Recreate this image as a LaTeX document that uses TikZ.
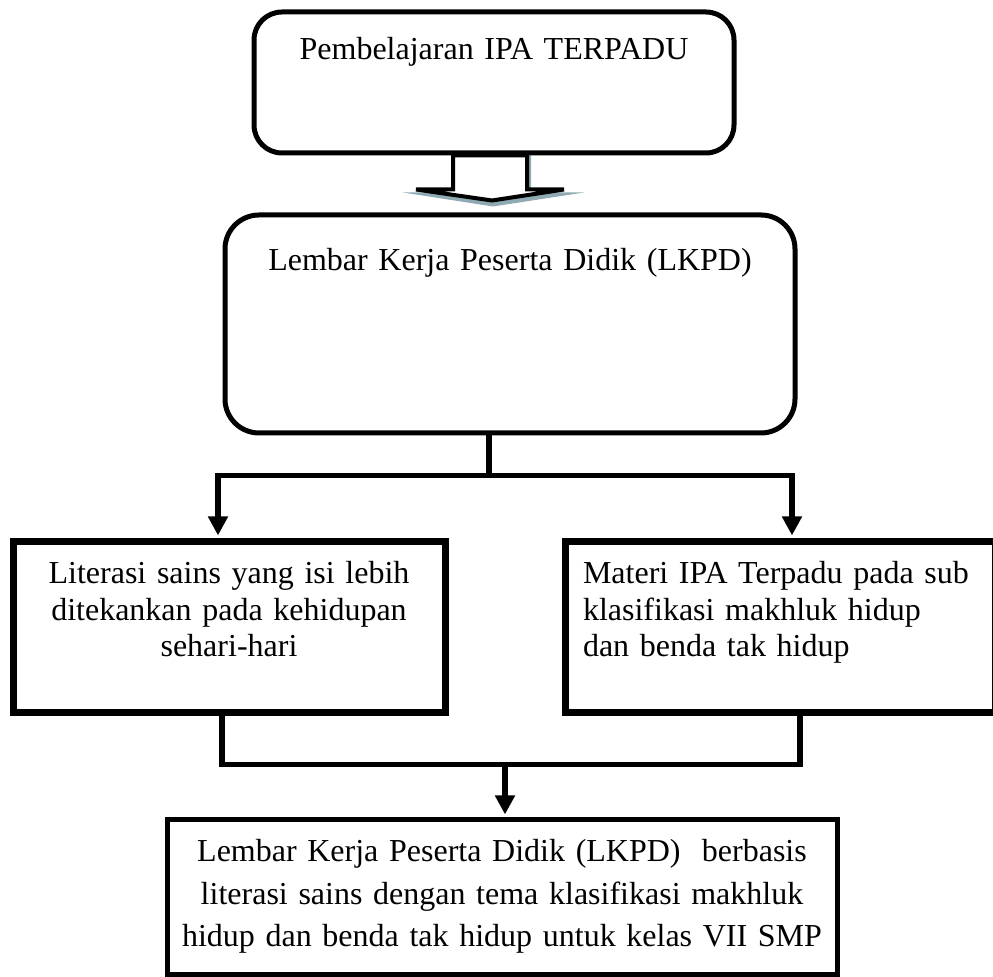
\documentclass[tikz,border=0pt]{standalone}
\usepackage{fontspec}
\setmainfont{Liberation Serif}
\usetikzlibrary{arrows.meta, backgrounds}
\definecolor{shadowblue}{RGB}{143, 170, 178}

\begin{document}
\begin{tikzpicture}[
    x=0.5pt, y=-0.5pt,
    roundbox/.style={
        draw, line width=2.5pt, rounded corners=15pt,
        inner sep=0pt, align=center,
        font=\fontsize{16}{18.25}\selectfont
    },
    squarebox/.style={
        draw, line width=3.5pt, inner sep=0pt,
        text width=216pt, text height=21pt, text depth=64.5pt,
        font=\fontsize{16}{18.25}\selectfont
    },
    resultbox/.style={
        draw, line width=2.5pt, inner sep=0pt, align=center,
        font=\fontsize{16}{21.25}\selectfont
    },
    link/.style={line width=2.6pt},
    arrow/.style={link, -{Triangle[length=9.5pt, width=9.5pt]}, shorten >=1.5pt},
    blockarrow/.style={fill=white, draw=black, line width=2pt, line join=miter}
]

\useasboundingbox (0, 0) rectangle (993, 977);

% TOP BOX
\node[roundbox, text width=240pt, text height=24pt, text depth=46.5pt,
      rounded corners=14pt] at (494, 82.5) (ipa) {Pembelajaran IPA TERPADU};

% LKPD BOX
\node[roundbox, text width=285pt, text height=28pt, text depth=81pt,
      rounded corners=17pt] at (510, 324) (lkpd) {Lembar Kerja Peserta Didik (LKPD)};

% SUB BOXES
\node[squarebox, align=center] at (229, 627.5) (literasi) {
    Literasi sains yang isi lebih\\ditekankan pada kehidupan\\sehari-hari
};

\node[squarebox, align=left, text width=197pt, inner xsep=9pt] at (780, 627.5) (materi) {
    Materi IPA Terpadu pada sub\\klasifikasi makhluk hidup\\dan benda tak hidup
};

% RESULT BOX
\node[resultbox, text width=335pt, text height=21pt, text depth=56.5pt] at (502, 897.5) (result) {
    Lembar Kerja Peserta Didik (LKPD)~ berbasis\\
    literasi sains dengan tema klasifikasi makhluk\\
    hidup dan benda tak hidup untuk kelas VII SMP
};

% BLOCK ARROW: TOP -> LKPD
\begin{scope}[on background layer]
    \coordinate (shaft) at ([xshift=-2pt]ipa.south);
    \fill[shadowblue] ([xshift=-16.5pt]shaft) -- ++(0, -18.5pt) -- ++(-27pt, 0)
        -- ++(45pt, -7pt) -- ++(45.5pt, 7pt) -- ++(-26.5pt, 0) -- ++(0, 18.5pt) -- cycle;
    \filldraw[blockarrow] ([xshift=-18.5pt]shaft) -- ++(0, -17pt) -- ++(-18.5pt, 0)
        -- ++(38pt, -5.5pt) -- ++(36pt, 5.5pt) -- ++(-18.5pt, 0) -- ++(0, 17pt) -- cycle;
\end{scope}

% ARROWS: LKPD -> SUB BOXES
\coordinate (fork) at ([xshift=-10.5pt, yshift=-20pt]lkpd.south);
\draw[link] ([xshift=-10.5pt]lkpd.south) -- (fork);
\draw[arrow] (fork) -| ([xshift=-5.5pt]literasi.north);
\draw[arrow] (fork) -| ([xshift=6pt]materi.north);

% ARROWS: SUB BOXES -> RESULT
\coordinate (merge) at ([xshift=1.5pt, yshift=26.5pt]result.north);
\draw[link] ([xshift=-3.5pt]literasi.south) |- (merge) -| ([xshift=10pt]materi.south);
\draw[arrow] (merge) -- (result.north -| merge);

\end{tikzpicture}
\end{document}
